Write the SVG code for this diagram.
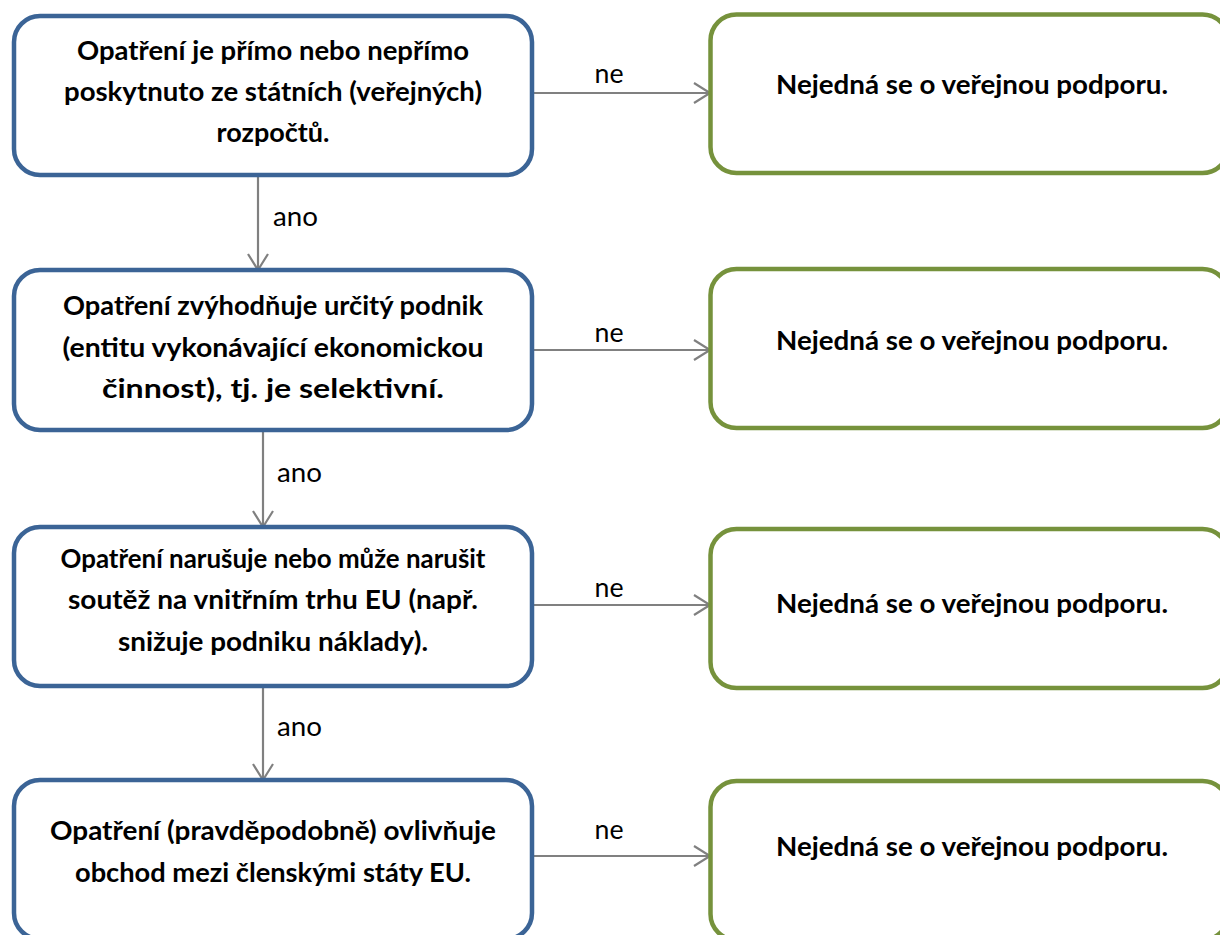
<svg xmlns="http://www.w3.org/2000/svg" width="1220" height="935" viewBox="0 0 1220 935">
  <defs>
    <marker id="arr" markerUnits="userSpaceOnUse" markerWidth="20" markerHeight="24" refX="17" refY="11" orient="auto" overflow="visible">
      <path d="M1,1 L17,11 L1,21" fill="none" stroke="#808080" stroke-width="2.2"/>
    </marker>
    <style>
      .q { fill: #ffffff; stroke: #3b6496; stroke-width: 4.5; }
      .n { fill: #ffffff; stroke: #76923c; stroke-width: 4.5; }
      .t { font-family: Lato, "Open Sans", "DejaVu Sans", sans-serif; font-weight: bold; font-size: 27.5px; fill: #000000; text-anchor: middle; }
      .l { font-family: Lato, "Open Sans", "DejaVu Sans", sans-serif; font-size: 27px; fill: #000000; }
      .c { fill: none; stroke: #808080; stroke-width: 2.2; marker-end: url(#arr); }
    </style>
  </defs>
  <rect width="1220" height="935" fill="#ffffff"/>

  <g id="connectors">
    <line class="c" x1="532" y1="93" x2="710" y2="93"/>
    <line class="c" x1="532" y1="350" x2="710" y2="350"/>
    <line class="c" x1="532" y1="605" x2="710" y2="605"/>
    <line class="c" x1="532" y1="856" x2="710" y2="856"/>
    <line class="c" x1="258" y1="176" x2="258" y2="270"/>
    <line class="c" x1="263" y1="430" x2="263" y2="527"/>
    <line class="c" x1="263" y1="686" x2="263" y2="780"/>
    <text class="l" x="609" y="83" text-anchor="middle" textLength="29" lengthAdjust="spacingAndGlyphs">ne</text>
    <text class="l" x="609" y="342" text-anchor="middle" textLength="29" lengthAdjust="spacingAndGlyphs">ne</text>
    <text class="l" x="609" y="597" text-anchor="middle" textLength="29" lengthAdjust="spacingAndGlyphs">ne</text>
    <text class="l" x="609" y="839" text-anchor="middle" textLength="29" lengthAdjust="spacingAndGlyphs">ne</text>
    <text class="l" x="273" y="226" textLength="45" lengthAdjust="spacingAndGlyphs">ano</text>
    <text class="l" x="277" y="482" textLength="45" lengthAdjust="spacingAndGlyphs">ano</text>
    <text class="l" x="277" y="736" textLength="45" lengthAdjust="spacingAndGlyphs">ano</text>
  </g>

  <g id="q1">
    <rect class="q" x="14" y="16" width="518" height="159" rx="26" ry="26"/>
    <text class="t" x="273" y="60" textLength="392" lengthAdjust="spacingAndGlyphs">Opatření je přímo nebo nepřímo</text>
    <text class="t" x="273" y="101" textLength="418" lengthAdjust="spacingAndGlyphs">poskytnuto ze státních (veřejných)</text>
    <text class="t" x="273" y="142" textLength="113" lengthAdjust="spacingAndGlyphs">rozpočtů.</text>
  </g>
  <g id="q2">
    <rect class="q" x="14" y="270" width="518" height="160" rx="26" ry="26"/>
    <text class="t" x="273" y="315" textLength="420" lengthAdjust="spacingAndGlyphs">Opatření zvýhodňuje určitý podnik</text>
    <text class="t" x="273" y="357" textLength="421" lengthAdjust="spacingAndGlyphs">(entitu vykonávající ekonomickou</text>
    <text class="t" x="273" y="398" textLength="342" lengthAdjust="spacingAndGlyphs">činnost), tj. je selektivní.</text>
  </g>
  <g id="q3">
    <rect class="q" x="14" y="527" width="518" height="159" rx="26" ry="26"/>
    <text class="t" x="273" y="568" textLength="425" lengthAdjust="spacingAndGlyphs">Opatření narušuje nebo může narušit</text>
    <text class="t" x="273" y="609" textLength="410" lengthAdjust="spacingAndGlyphs">soutěž na vnitřním trhu EU (např.</text>
    <text class="t" x="273" y="651" textLength="310" lengthAdjust="spacingAndGlyphs">snižuje podniku náklady).</text>
  </g>
  <g id="q4">
    <rect class="q" x="14" y="780" width="518" height="159" rx="26" ry="26"/>
    <text class="t" x="273" y="840" textLength="446" lengthAdjust="spacingAndGlyphs">Opatření (pravděpodobně) ovlivňuje</text>
    <text class="t" x="273" y="882" textLength="396" lengthAdjust="spacingAndGlyphs">obchod mezi členskými státy EU.</text>
  </g>

  <g id="n1">
    <rect class="n" x="710.5" y="14.5" width="518" height="158.5" rx="26" ry="26"/>
    <text class="t" x="972" y="94" textLength="392" lengthAdjust="spacingAndGlyphs">Nejedná se o veřejnou podporu.</text>
  </g>
  <g id="n2">
    <rect class="n" x="710.5" y="269" width="518" height="159" rx="26" ry="26"/>
    <text class="t" x="972" y="350" textLength="392" lengthAdjust="spacingAndGlyphs">Nejedná se o veřejnou podporu.</text>
  </g>
  <g id="n3">
    <rect class="n" x="710.5" y="529" width="518" height="159" rx="26" ry="26"/>
    <text class="t" x="972" y="613" textLength="392" lengthAdjust="spacingAndGlyphs">Nejedná se o veřejnou podporu.</text>
  </g>
  <g id="n4">
    <rect class="n" x="710.5" y="781" width="518" height="159" rx="26" ry="26"/>
    <text class="t" x="972" y="856" textLength="392" lengthAdjust="spacingAndGlyphs">Nejedná se o veřejnou podporu.</text>
  </g>
</svg>
